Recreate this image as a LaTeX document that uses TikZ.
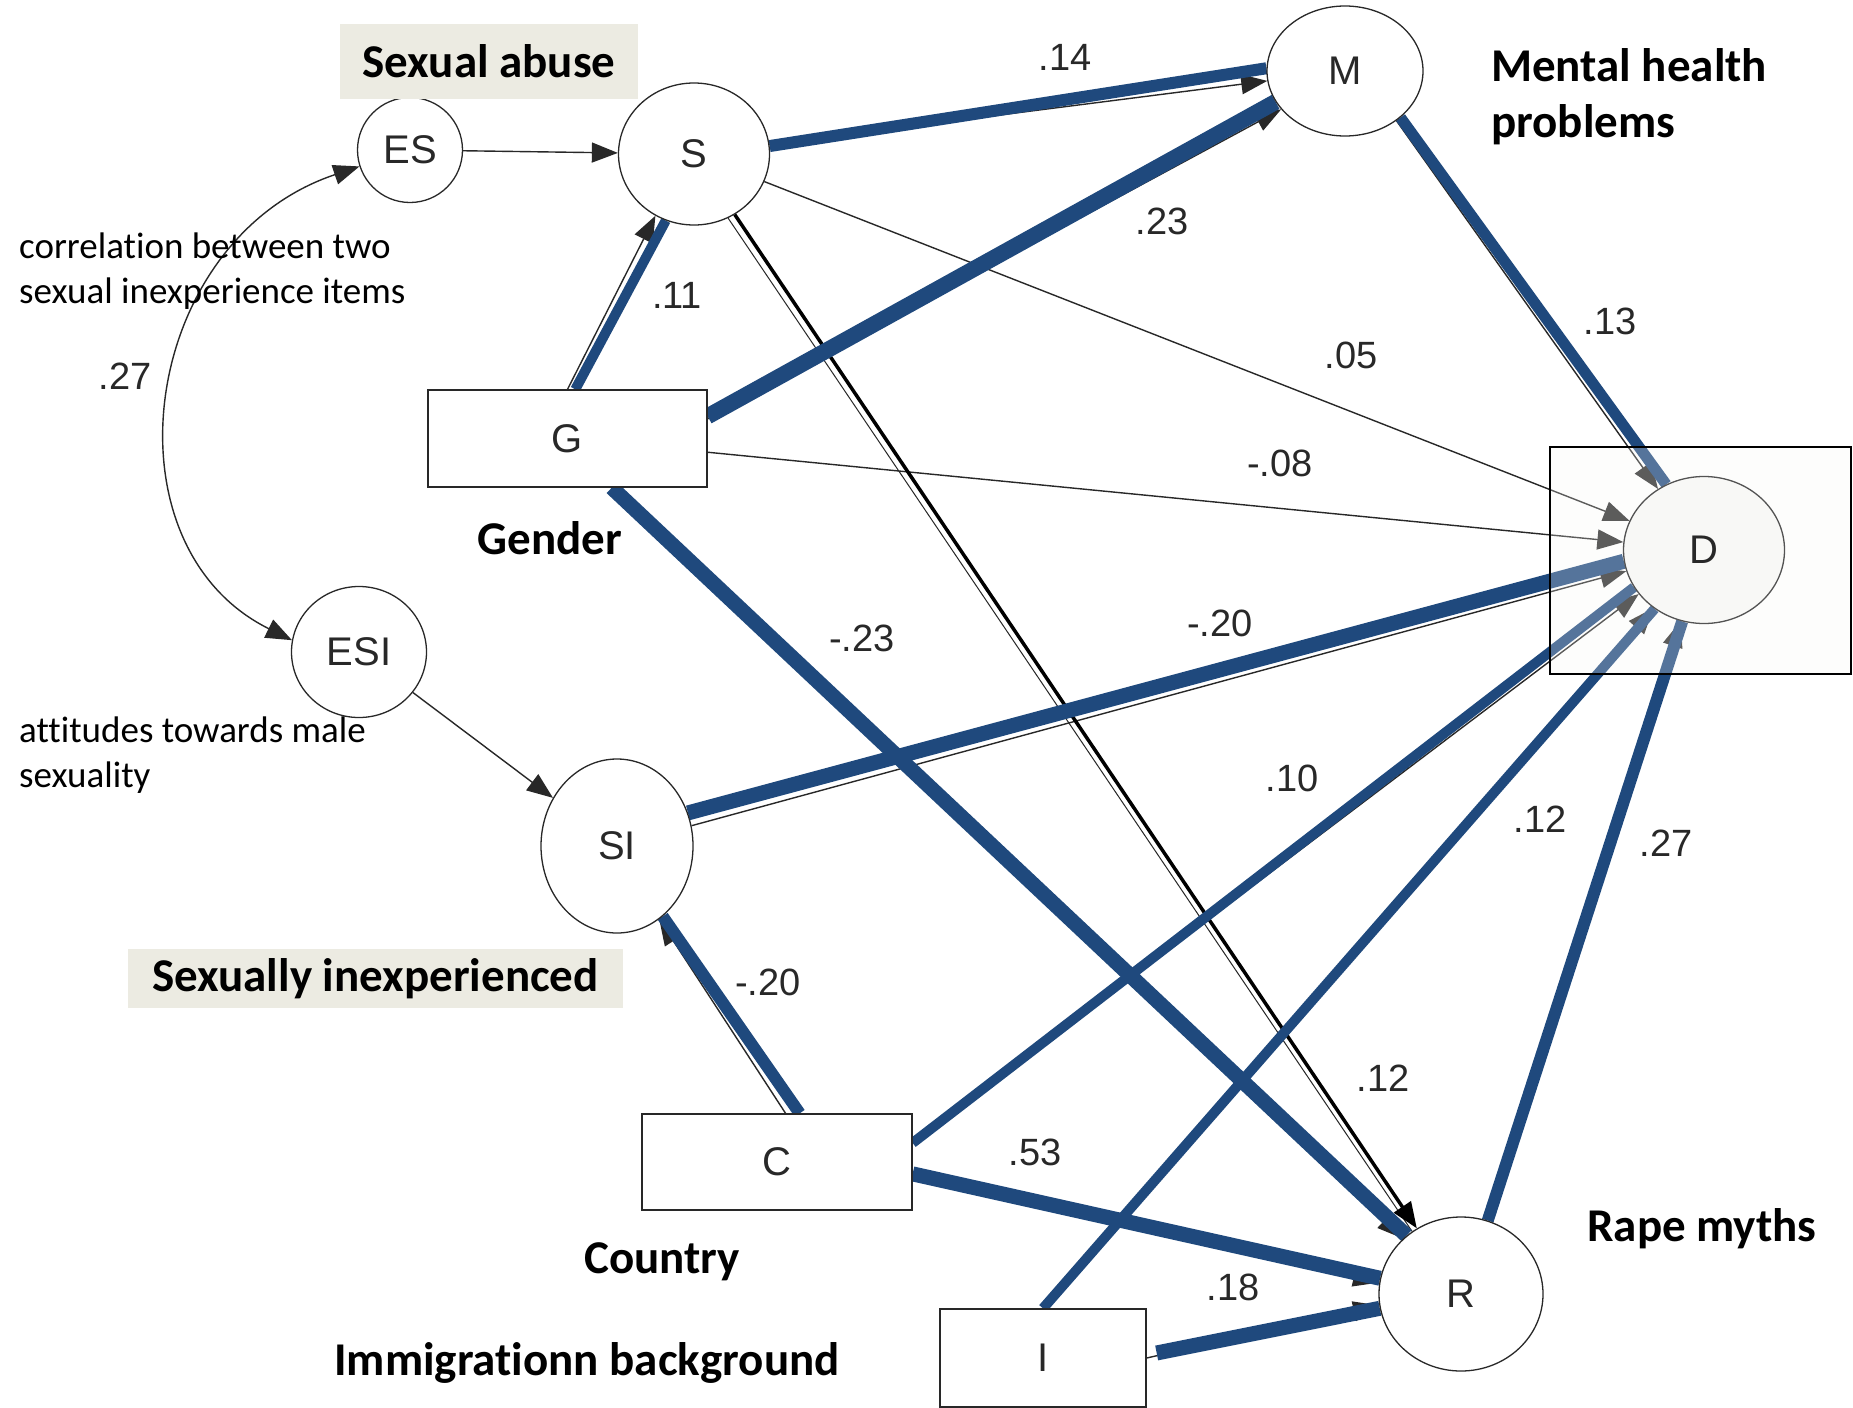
\documentclass[tikz,border=0pt]{standalone}
\usepackage{fontspec}
\setmainfont{Liberation Sans}
\newfontfamily\calfont[Ligatures=NoCommon]{Carlito}
\usetikzlibrary{arrows.meta,shapes.geometric}
\pgfdeclarelayer{bg}
\pgfdeclarelayer{edges}
\pgfdeclarelayer{boxlayer}
\pgfsetlayers{bg,edges,boxlayer,main}
\definecolor{ablue}{RGB}{31,73,125}
\definecolor{lbl}{RGB}{236,235,226}
\definecolor{ink}{RGB}{40,40,40}
\definecolor{boxfill}{RGB}{248,248,246}
\begin{document}
\begin{tikzpicture}[x=1pt,y=-1pt,
  >={Triangle[length=26pt,width=20pt]},
  latent/.style={ellipse, draw=ink, line width=1.3pt, fill=white, inner sep=0pt,
    font=\fontsize{40}{48}\selectfont, text=ink},
  obs/.style={rectangle, draw=ink, line width=1.3pt, fill=white, inner sep=0pt,
    font=\fontsize{40}{48}\selectfont, text=ink},
  arr/.style={draw=ink, line width=1.4pt, ->},
  bl/.style={draw=ablue, line width=#1},
  coef/.style={font=\fontsize{38}{44}\selectfont, text=ink, inner sep=0pt},
  boldlab/.style={font=\calfont\bfseries\fontsize{47}{56}\selectfont, inner sep=0pt},
  labbox/.style={boldlab, fill=lbl},
  note/.style={font=\calfont\fontsize{37}{45}\selectfont, align=left, inner sep=0pt, anchor=west},
]
\begin{pgfonlayer}{bg}
\fill[white] (0,0) rectangle (1853,1408);
\end{pgfonlayer}
\useasboundingbox (0,0) rectangle (1853,1408);

% nodes
\node[latent, minimum width=105pt, minimum height=105pt] (ES) at (410,150) {ES};
\node[latent, minimum width=151pt, minimum height=142pt] (S) at (694,154) {S};
\node[latent, minimum width=156pt, minimum height=130pt] (M) at (1345,71) {M};
\node[obs, minimum width=279pt, minimum height=97pt] (G) at (567.5,438.5) {G};
\node[latent, minimum width=161pt, minimum height=147pt, fill=boxfill, draw=ink!80] (D) at (1704,550) {D};
\node[latent, minimum width=135pt, minimum height=131pt] (ESI) at (359,652) {ESI};
\node[latent, minimum width=152pt, minimum height=174pt] (SI) at (617,846) {SI};
\node[obs, minimum width=270pt, minimum height=96pt] (C) at (777,1162) {C};
\node[obs, minimum width=206pt, minimum height=98pt] (I) at (1043,1358) {I};
\node[latent, minimum width=164pt, minimum height=154pt] (R) at (1461,1294) {R};

% thin original arrows and blue overlays
\begin{pgfonlayer}{edges}
\draw[arr] (ES) -- (S);
\draw[arr] (ESI) -- (SI);
\draw[arr, <->] (ES.198) .. controls (140,240) and (100,545) .. (ESI.170);
\draw[arr] (G.north) -- (S.238);
\draw[arr] (S) -- (M);
\draw[arr] (G.8) -- (M.211);
\draw[arr] (S) -- (D);
\draw[arr] (G) -- (D);
\draw[arr] (M.316) -- (D.127);
\draw[arr] (SI) -- (D);
\draw[arr] (C.8) -- (D.214);
\draw[arr] (I.north) -- (D.229);
\draw[arr] (R) -- (D);
\draw[draw=ink, line width=1pt] (S.298) -- (R.128);
\draw[draw=black, line width=3.5pt, ->] (S) -- (R);
\draw[arr] (G) -- (R);
\draw[arr] (C.355) -- (R.172);
\draw[arr] (I.east) -- (R.188);
\draw[arr] (C.80) -- (SI.300);

\draw[bl=12pt] (S.6) -- (M.178);
\draw[bl=16pt] (G.9) -- (M.204);
\draw[bl=10pt] (G.81) -- (S.247);
\draw[bl=15pt] (G.312) -- (R.133);
\draw[bl=11pt] (M.320) -- (D.120);
\draw[bl=15pt] (SI.25) -- (D.188);
\draw[bl=10pt] (C.8) -- (D.208);
\draw[bl=10pt] (I.north) -- (D.230);
\draw[bl=12pt] (R.70) -- (D.253);
\draw[bl=15pt] (C.355) -- (R.169);
\draw[bl=15pt] ([shift={(10,-5)}]I.east) -- (R.190);
\draw[bl=12pt] (C.65) -- (SI.303);
\end{pgfonlayer}

\begin{pgfonlayer}{boxlayer}
\draw[black, line width=1.5pt, fill=boxfill, fill opacity=0.25] (1550,447) rectangle (1851,674);
\end{pgfonlayer}

% labels
\node[labbox, minimum width=298pt, minimum height=75pt] (lsa) at (489,61.5) {Sexual abuse};
\node[boldlab, anchor=west, align=left] (lmh) at (1491,97) {Mental health\\problems};
\node[boldlab] (lg) at (550,538) {Gender};
\node[labbox, minimum width=495pt, minimum height=59pt] (lsi) at (375.5,978.5) {Sexually inexperienced};
\node[boldlab] (lc) at (662,1262) {Country};
\node[boldlab] (lib) at (587,1363) {Immigrationn background};
\node[boldlab] (lrm) at (1702,1229) {Rape myths};
\node[note] (ncor) at (19,271.5) {correlation between two\\sexual inexperience items};
\node[note] (natt) at (19,755.5) {attitudes towards male\\sexuality};

% coefficients
\node[coef] (c1) at (1065,57) {.14};
\node[coef] (c2) at (1162,221) {.23};
\node[coef] (c3) at (1351,355) {.05};
\node[coef] (c4) at (1610,321) {.13};
\node[coef] (c5) at (1280,463) {-.08};
\node[coef] (c6) at (677,295) {.11};
\node[coef] (c7) at (125,376) {.27};
\node[coef] (c8) at (862,638) {-.23};
\node[coef] (c9) at (1220,623) {-.20};
\node[coef] (c10) at (1292,778) {.10};
\node[coef] (c11) at (1540,819) {.12};
\node[coef] (c12) at (1666,843) {.27};
\node[coef] (c13) at (768,982) {-.20};
\node[coef] (c14) at (1383,1078) {.12};
\node[coef] (c15) at (1035,1152) {.53};
\node[coef] (c16) at (1233,1287) {.18};
\end{tikzpicture}
\end{document}
